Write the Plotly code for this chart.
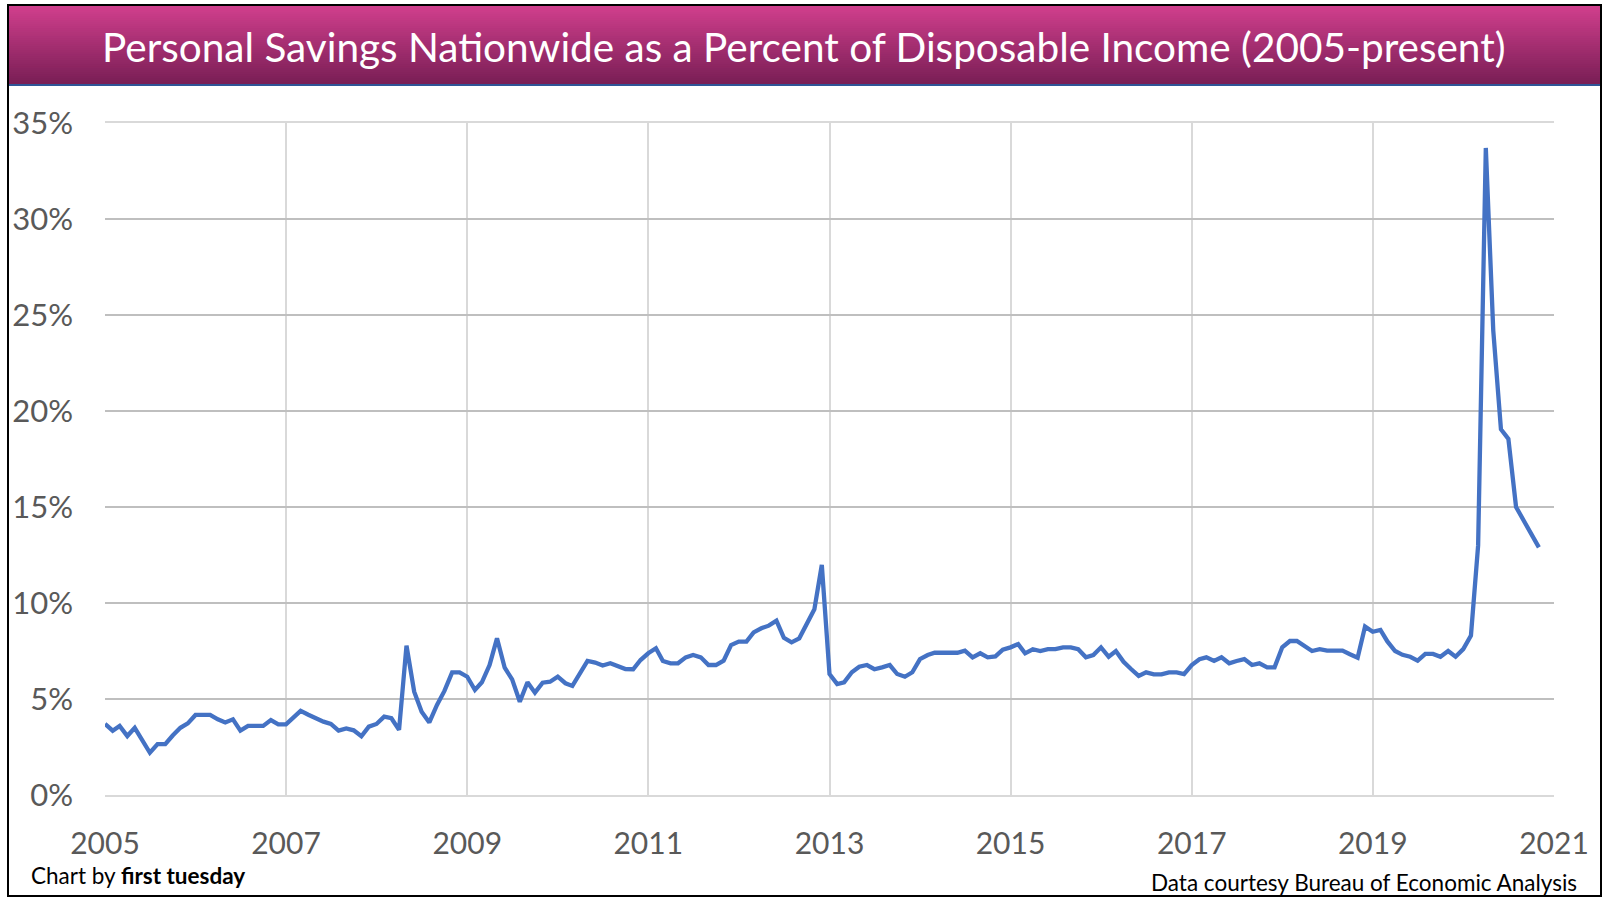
import pandas as pd
import plotly.graph_objects as go

# personal savings rate (% of disposable income), monthly
sav_2005 = [3.7, 3.35, 3.6, 3.07, 3.5, 2.85, 2.2, 2.65, 2.65, 3.1, 3.5, 3.73]
sav_2006 = [4.17, 4.17, 4.17, 3.94, 3.78, 3.94, 3.35, 3.6, 3.6, 3.6, 3.9, 3.68]
sav_2007 = [3.68, 4.03, 4.38, 4.18, 3.98, 3.82, 3.7, 3.35, 3.47, 3.37, 3.06, 3.56]
sav_2008 = [3.7, 4.08, 4.0, 3.39, 7.78, 5.38, 4.34, 3.78, 4.69, 5.42, 6.39, 6.39]
sav_2009 = [6.16, 5.47, 5.87, 6.77, 8.16, 6.63, 6.02, 4.86, 5.87, 5.33, 5.85, 5.9]
sav_2010 = [6.16, 5.82, 5.68, 6.34, 6.98, 6.9, 6.74, 6.86, 6.68, 6.56, 6.55, 7.03]
sav_2011 = [7.38, 7.64, 6.98, 6.86, 6.86, 7.17, 7.29, 7.17, 6.77, 6.77, 7.0, 7.81]
sav_2012 = [7.99, 7.99, 8.47, 8.68, 8.82, 9.08, 8.19, 7.95, 8.16, 8.85, 9.67, 11.98]
sav_2013 = [6.3, 5.78, 5.87, 6.39, 6.68, 6.77, 6.55, 6.65, 6.77, 6.3, 6.16, 6.39]
sav_2014 = [7.08, 7.29, 7.41, 7.41, 7.41, 7.41, 7.52, 7.17, 7.38, 7.17, 7.22, 7.57]
sav_2015 = [7.69, 7.86, 7.38, 7.59, 7.5, 7.6, 7.6, 7.69, 7.69, 7.59, 7.17, 7.29]
sav_2016 = [7.69, 7.2, 7.5, 6.94, 6.56, 6.2, 6.39, 6.28, 6.28, 6.39, 6.39, 6.3]
sav_2017 = [6.77, 7.07, 7.17, 6.98, 7.17, 6.86, 6.98, 7.08, 6.77, 6.86, 6.65, 6.65]
sav_2018 = [7.69, 8.02, 8.02, 7.73, 7.5, 7.6, 7.52, 7.52, 7.52, 7.33, 7.15, 8.77]
sav_2019 = [8.5, 8.6, 8.0, 7.5, 7.3, 7.2, 7.0, 7.35, 7.35, 7.2, 7.5, 7.2]
sav_2020 = [7.6, 8.3, 13.0, 33.7, 24.2, 19.05, 18.55, 15.0, 14.3, 13.6, 12.9]

savings = (sav_2005 + sav_2006 + sav_2007 + sav_2008 + sav_2009 + sav_2010 + sav_2011
           + sav_2012 + sav_2013 + sav_2014 + sav_2015 + sav_2016 + sav_2017 + sav_2018
           + sav_2019 + sav_2020)
months = pd.date_range("2005-01-01", periods=len(savings), freq="MS")

tick_years = ["2005", "2007", "2009", "2011", "2013", "2015", "2017", "2019", "2021"]
tick_pcts = [0, 5, 10, 15, 20, 25, 30, 35]

W, H = 1608, 902
L, R, T, B = 105, 1554, 123, 795  # plot area in pixels


def px(x):
    return (x - L) / (R - L)


def py(y):
    return (B - y) / (B - T)


fig = go.Figure()
fig.add_trace(go.Scatter(x=months, y=savings, mode="lines",
                         line=dict(color="#4472C4", width=4.3), showlegend=False))

shapes = []
# title banner with a vertical gradient, built from thin strips
top, bot = 5, 85
n = 40
c1, c2 = (210, 64, 142), (122, 31, 86)
for k in range(n):
    f = k / (n - 1)
    col = "rgb(%d,%d,%d)" % tuple(int(c1[j] + (c2[j] - c1[j]) * f) for j in range(3))
    y0 = top + (bot - top) * k / n
    y1 = top + (bot - top) * (k + 1) / n
    shapes.append(dict(type="rect", xref="paper", yref="paper", x0=px(8), x1=px(1601),
                       y0=py(y1), y1=py(y0) + 0.001, line=dict(width=0), fillcolor=col, layer="above"))
shapes.append(dict(type="rect", xref="paper", yref="paper", x0=px(8), x1=px(1601),
                   y0=py(bot), y1=py(top), line=dict(color="#2F5597", width=2), layer="above"))
# outer frame
shapes.append(dict(type="rect", xref="paper", yref="paper", x0=px(8), x1=px(1601),
                   y0=py(896), y1=py(5), line=dict(color="black", width=2)))

fig.update_layout(
    width=W, height=H,
    margin=dict(l=L, r=W - R, t=T, b=H - B),
    paper_bgcolor="white", plot_bgcolor="white",
    font=dict(family="Lato, 'Open Sans', sans-serif", color="#595959"),
    shapes=shapes,
    xaxis=dict(
        range=["2005-01-01", "2021-01-01"],
        tickvals=[y + "-01-01" for y in tick_years], ticktext=tick_years,
        showgrid=True, gridcolor="#D9D9D9", gridwidth=1.5,
        showline=True, linecolor="#D9D9D9", linewidth=1.5, mirror=True,
        ticks="", tickfont=dict(size=30, color="#595959"), ticklabelstandoff=21,
        zeroline=False,
    ),
    yaxis=dict(
        range=[0, 35], tickvals=tick_pcts, ticktext=[str(v) + "%" for v in tick_pcts],
        showgrid=True, gridcolor="#BFBFBF", gridwidth=1.5,
        showline=False, zeroline=False, ticks="",
        tickfont=dict(size=31, color="#595959"), ticklabelstandoff=31,
    ),
    annotations=[
        dict(text="Personal Savings Nationwide as a Percent of Disposable Income (2005-present)",
             xref="paper", yref="paper", x=px(804), y=py(46), xanchor="center", yanchor="middle",
             showarrow=False, font=dict(size=40.5, color="white")),
        dict(text="Chart by <b>first tuesday</b>", xref="paper", yref="paper",
             x=px(29), y=py(876), xanchor="left", yanchor="middle", showarrow=False,
             font=dict(size=22.5, color="black")),
        dict(text="Data courtesy Bureau of Economic Analysis", xref="paper", yref="paper",
             x=px(1579), y=py(882), xanchor="right", yanchor="middle", showarrow=False,
             font=dict(size=22.5, color="black")),
    ],
)

# page body has a default margin, drop it so the figure sits at the window corner
fig.write_html("out.html", config={"displayModeBar": False},
               post_script="document.body.style.margin='0px';")
